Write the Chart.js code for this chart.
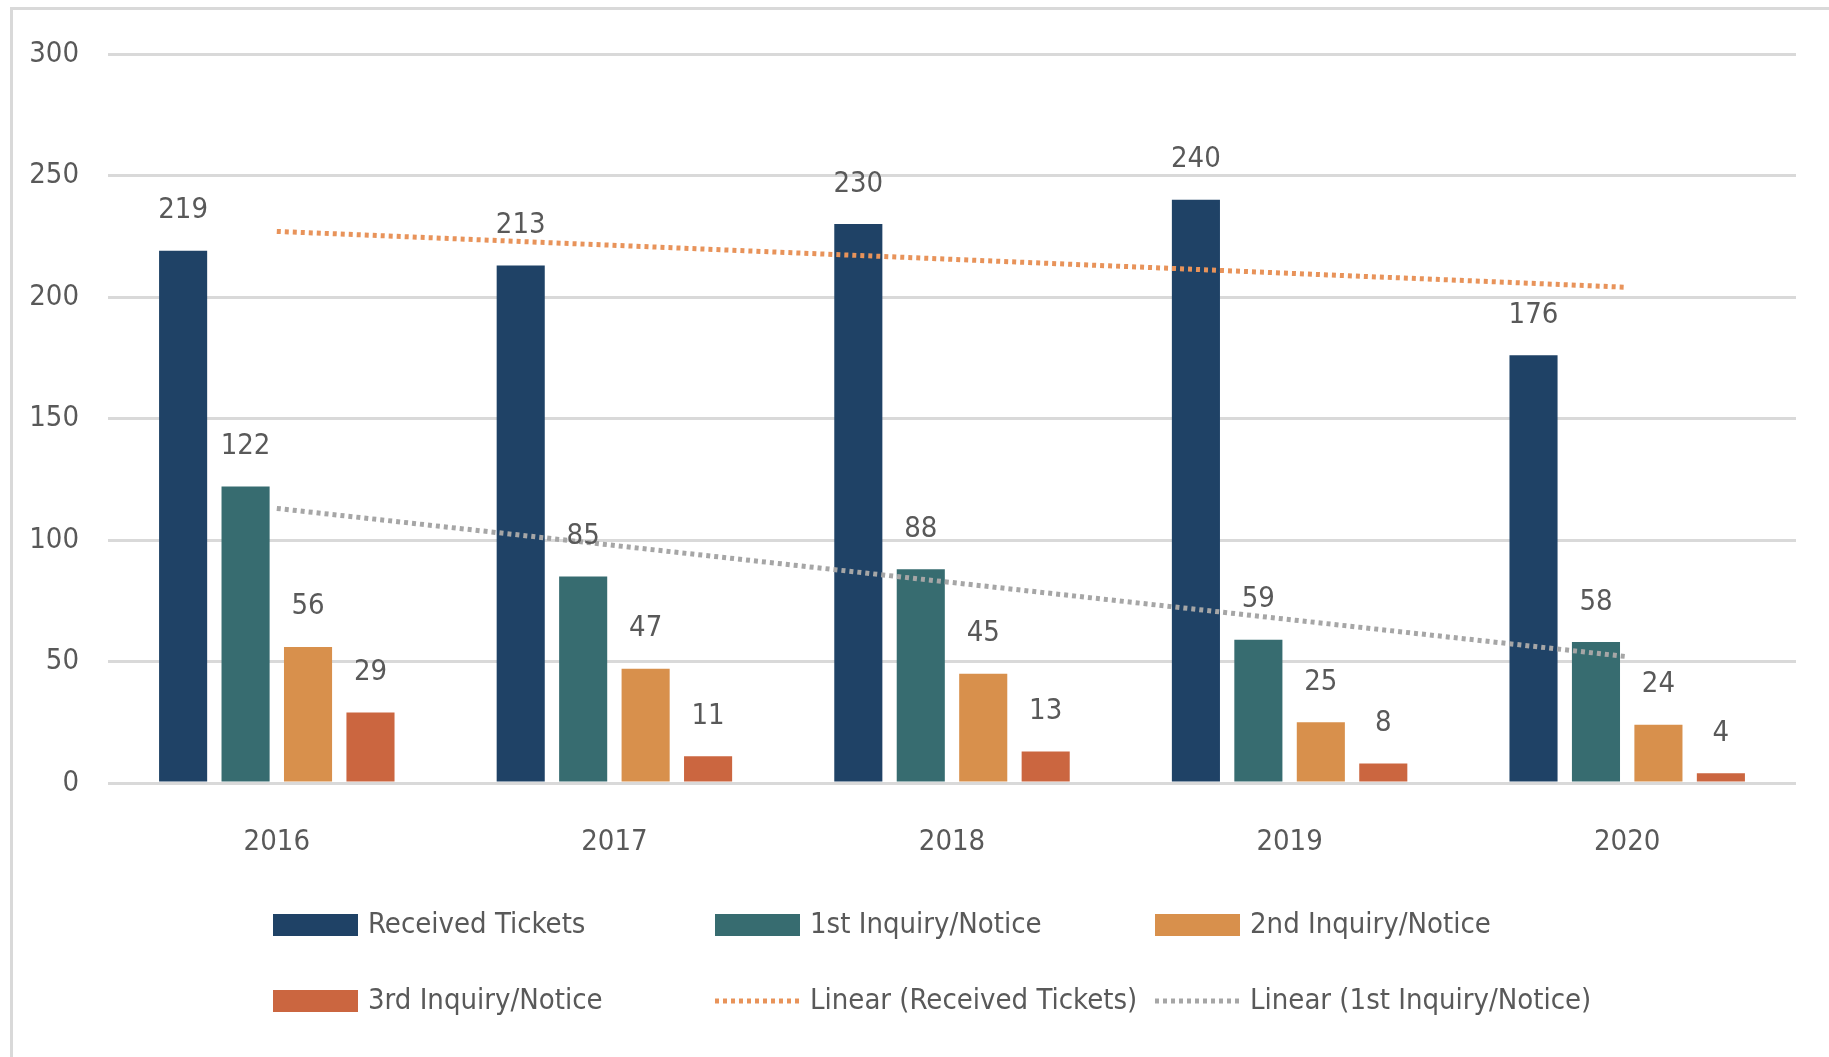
<!DOCTYPE html>
<html>
<head>
<meta charset="utf-8">
<script src="https://cdn.jsdelivr.net/npm/chart.js@4"></script>
<style>
    html, body { margin: 0; padding: 0; background: #fff; }
    #wrap { position: relative; width: 1829px; height: 1057px; overflow: hidden; }
    #frame { position: absolute; left: 10px; top: 7px; width: 1900px; height: 1100px;
             border-left: 3px solid #d9d9d9; border-top: 3px solid #d9d9d9; }
    #chart { position: absolute; left: 0; top: 0; }
</style>
</head>
<body>
<div id="wrap">
    <div id="frame"></div>
    <canvas id="chart" width="1829" height="1057"></canvas>
</div>
<script>
const years = ['2016', '2017', '2018', '2019', '2020'];
const received = [219, 213, 230, 240, 176];
const firstNotice = [122, 85, 88, 59, 58];
const secondNotice = [56, 47, 45, 25, 24];
const thirdNotice = [29, 11, 13, 8, 4];
// trendline ends (first and last year)
const trendReceived = [227, null, null, null, 204];
const trendFirst = [113, null, null, null, 52];
const yTicks = [0, 50, 100, 150, 200, 250, 300];

const FONT = "'DejaVu Sans Condensed', 'Liberation Sans', sans-serif";
const FSIZE = 29;
const TEXT = '#595959';

const barLabels = {
    id: 'barLabels',
    afterDatasetsDraw(chart) {
        const ctx = chart.ctx;
        ctx.save();
        ctx.font = FSIZE + 'px ' + FONT;
        ctx.fillStyle = TEXT;
        ctx.textAlign = 'center';
        ctx.textBaseline = 'middle';
        chart.data.datasets.forEach((ds, i) => {
            if (ds.type === 'line') return;
            chart.getDatasetMeta(i).data.forEach((bar, j) => {
                ctx.fillText(ds.data[j], bar.x, bar.y - 40);
            });
        });
        ctx.restore();
    }
};

const gridLegend = {
    id: 'gridLegend',
    afterDraw(chart) {
        const ctx = chart.ctx;
        const cols = [273, 715, 1155];
        const rows = [925, 1001];
        ctx.save();
        ctx.font = FSIZE + 'px ' + FONT;
        ctx.textBaseline = 'middle';
        ctx.textAlign = 'left';
        chart.data.datasets.forEach((ds, i) => {
            const x = cols[i % 3];
            const y = rows[Math.floor(i / 3)];
            if (ds.type === 'line') {
                ctx.strokeStyle = ds.borderColor;
                ctx.lineWidth = 5;
                ctx.setLineDash([4, 4]);
                ctx.beginPath();
                ctx.moveTo(x, y);
                ctx.lineTo(x + 85, y);
                ctx.stroke();
                ctx.setLineDash([]);
            } else {
                ctx.fillStyle = ds.backgroundColor;
                ctx.fillRect(x, y - 11, 85, 22);
            }
            ctx.fillStyle = TEXT;
            ctx.fillText(ds.label, x + 95, y);
        });
        ctx.restore();
    }
};

new Chart(document.getElementById('chart'), {
    data: {
        labels: years,
        datasets: [
            { type: 'bar', label: 'Received Tickets', data: received, backgroundColor: '#1f4266', order: 2 },
            { type: 'bar', label: '1st Inquiry/Notice', data: firstNotice, backgroundColor: '#376c70', order: 2 },
            { type: 'bar', label: '2nd Inquiry/Notice', data: secondNotice, backgroundColor: '#d8904c', order: 2 },
            { type: 'bar', label: '3rd Inquiry/Notice', data: thirdNotice, backgroundColor: '#cb6640', order: 2 },
            { type: 'line', label: 'Linear (Received Tickets)', data: trendReceived, spanGaps: true,
              borderColor: '#e8935a', borderWidth: 5, borderDash: [4, 4], pointRadius: 0, fill: false, order: 1 },
            { type: 'line', label: 'Linear (1st Inquiry/Notice)', data: trendFirst, spanGaps: true,
              borderColor: '#a6a6a6', borderWidth: 5, borderDash: [4, 4], pointRadius: 0, fill: false, order: 1 }
        ]
    },
    options: {
        responsive: false,
        animation: false,
        layout: { padding: { left: 0, right: 33, top: 54, bottom: 0 } },
        datasets: { bar: { categoryPercentage: 0.74, barPercentage: 0.77 } },
        plugins: { legend: { display: false }, tooltip: { enabled: false } },
        scales: {
            x: {
                grid: { display: false, drawTicks: false },
                border: { display: false },
                ticks: { color: TEXT, font: { family: FONT, size: FSIZE }, padding: 42 },
                afterFit: s => { s.height = 274; }
            },
            y: {
                min: 0, max: 300,
                afterBuildTicks: s => { s.ticks = yTicks.map(v => ({ value: v })); },
                grid: { color: '#d9d9d9', lineWidth: 3, drawTicks: false },
                border: { display: false },
                ticks: { color: TEXT, font: { family: FONT, size: FSIZE }, padding: 29 },
                afterFit: s => { s.width = 108; }
            }
        }
    },
    plugins: [barLabels, gridLegend]
});
</script>
</body>
</html>
